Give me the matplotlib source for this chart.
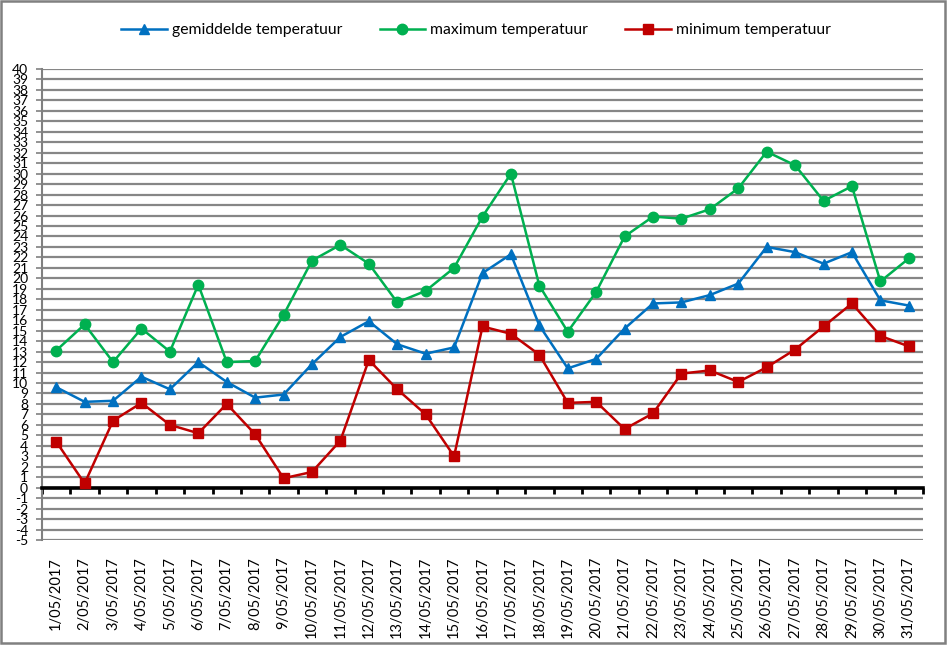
import matplotlib
matplotlib.use("Agg")
import matplotlib.pyplot as plt
from matplotlib.patches import Rectangle
import numpy as np

plt.rcParams['font.family'] = ['Lato', 'DejaVu Sans']

dates = [f"{d}/05/2017" for d in range(1, 32)]
gemiddelde = [9.6, 8.2, 8.3, 10.6, 9.4, 12.0, 10.1, 8.6, 8.9, 11.8, 14.4, 15.9, 13.7, 12.8, 13.4,
              20.5, 22.3, 15.5, 11.4, 12.3, 15.2, 17.6, 17.7, 18.4, 19.5, 23.0, 22.5, 21.4, 22.5, 17.9, 17.4]
maximum = [13.1, 15.6, 12.0, 15.2, 13.0, 19.4, 12.0, 12.1, 16.5, 21.7, 23.2, 21.4, 17.7, 18.8, 21.0,
           25.9, 30.0, 19.3, 14.9, 18.7, 24.0, 25.9, 25.7, 26.6, 28.6, 32.1, 30.8, 27.4, 28.8, 19.7, 21.9]
minimum = [4.4, 0.4, 6.4, 8.1, 6.0, 5.2, 8.0, 5.1, 0.9, 1.5, 4.5, 12.2, 9.4, 7.0, 3.0,
           15.4, 14.7, 12.7, 8.1, 8.2, 5.6, 7.1, 10.9, 11.2, 10.1, 11.5, 13.2, 15.4, 17.6, 14.5, 13.5]
labels = ["gemiddelde temperatuur", "maximum temperatuur", "minimum temperatuur"]

W, H = 947, 645
fig = plt.figure(figsize=(W / 100, H / 100), dpi=100)
ax = fig.add_axes([42 / W, (H - 540) / H, 881 / W, 471 / H])

x = np.arange(len(dates))
ax.plot(x, gemiddelde, color='#0070C0', lw=1.8, marker='^', ms=7.5, label=labels[0], zorder=4)
ax.plot(x, maximum, color='#00B050', lw=1.8, marker='o', ms=7.5, label=labels[1], zorder=4)
ax.plot(x, minimum, color='#C00000', lw=1.8, marker='s', ms=7, label=labels[2], zorder=4)

ax.set_xlim(-0.5, len(dates) - 0.5)
ax.set_ylim(-5, 40)
yt = np.arange(-5, 41, 1)
ax.set_yticks(yt)
ax.set_yticklabels([str(v) for v in yt], fontsize=10)
ax.tick_params(axis='y', direction='out', length=4, width=1.2, color='#808080', pad=6)
ax.yaxis.grid(True, color='#868686', lw=1.6)
ax.set_axisbelow(True)

for s in ['top', 'right']:
    ax.spines[s].set_visible(False)
ax.spines['left'].set_color('#808080')
ax.spines['left'].set_linewidth(1.5)
ax.spines['bottom'].set_position(('data', 0))
ax.spines['bottom'].set_color('black')
ax.spines['bottom'].set_linewidth(2.6)
ax.spines['bottom'].set_zorder(3)
ax.set_xticks(np.arange(-0.5, len(dates), 1))
ax.tick_params(axis='x', direction='out', length=4, width=2, color='black', labelbottom=False)

sec = ax.secondary_xaxis(0)
sec.set_xticks(x)
sec.set_xticklabels(dates, rotation=90, fontsize=10.5)
sec.tick_params(length=0, pad=12)
sec.spines['bottom'].set_visible(False)

fig.legend(loc='center', bbox_to_anchor=(476 / W, 1 - 30 / H), ncol=3, frameon=False,
           fontsize=11.3, handlelength=2.9, handletextpad=0.3, columnspacing=2.4)

fig.add_artist(Rectangle((1 / W, 2 / H), 944 / W, 642 / H, transform=fig.transFigure,
                         fill=False, edgecolor='#808080', lw=1.8))

fig.savefig("out.png", dpi=100)
